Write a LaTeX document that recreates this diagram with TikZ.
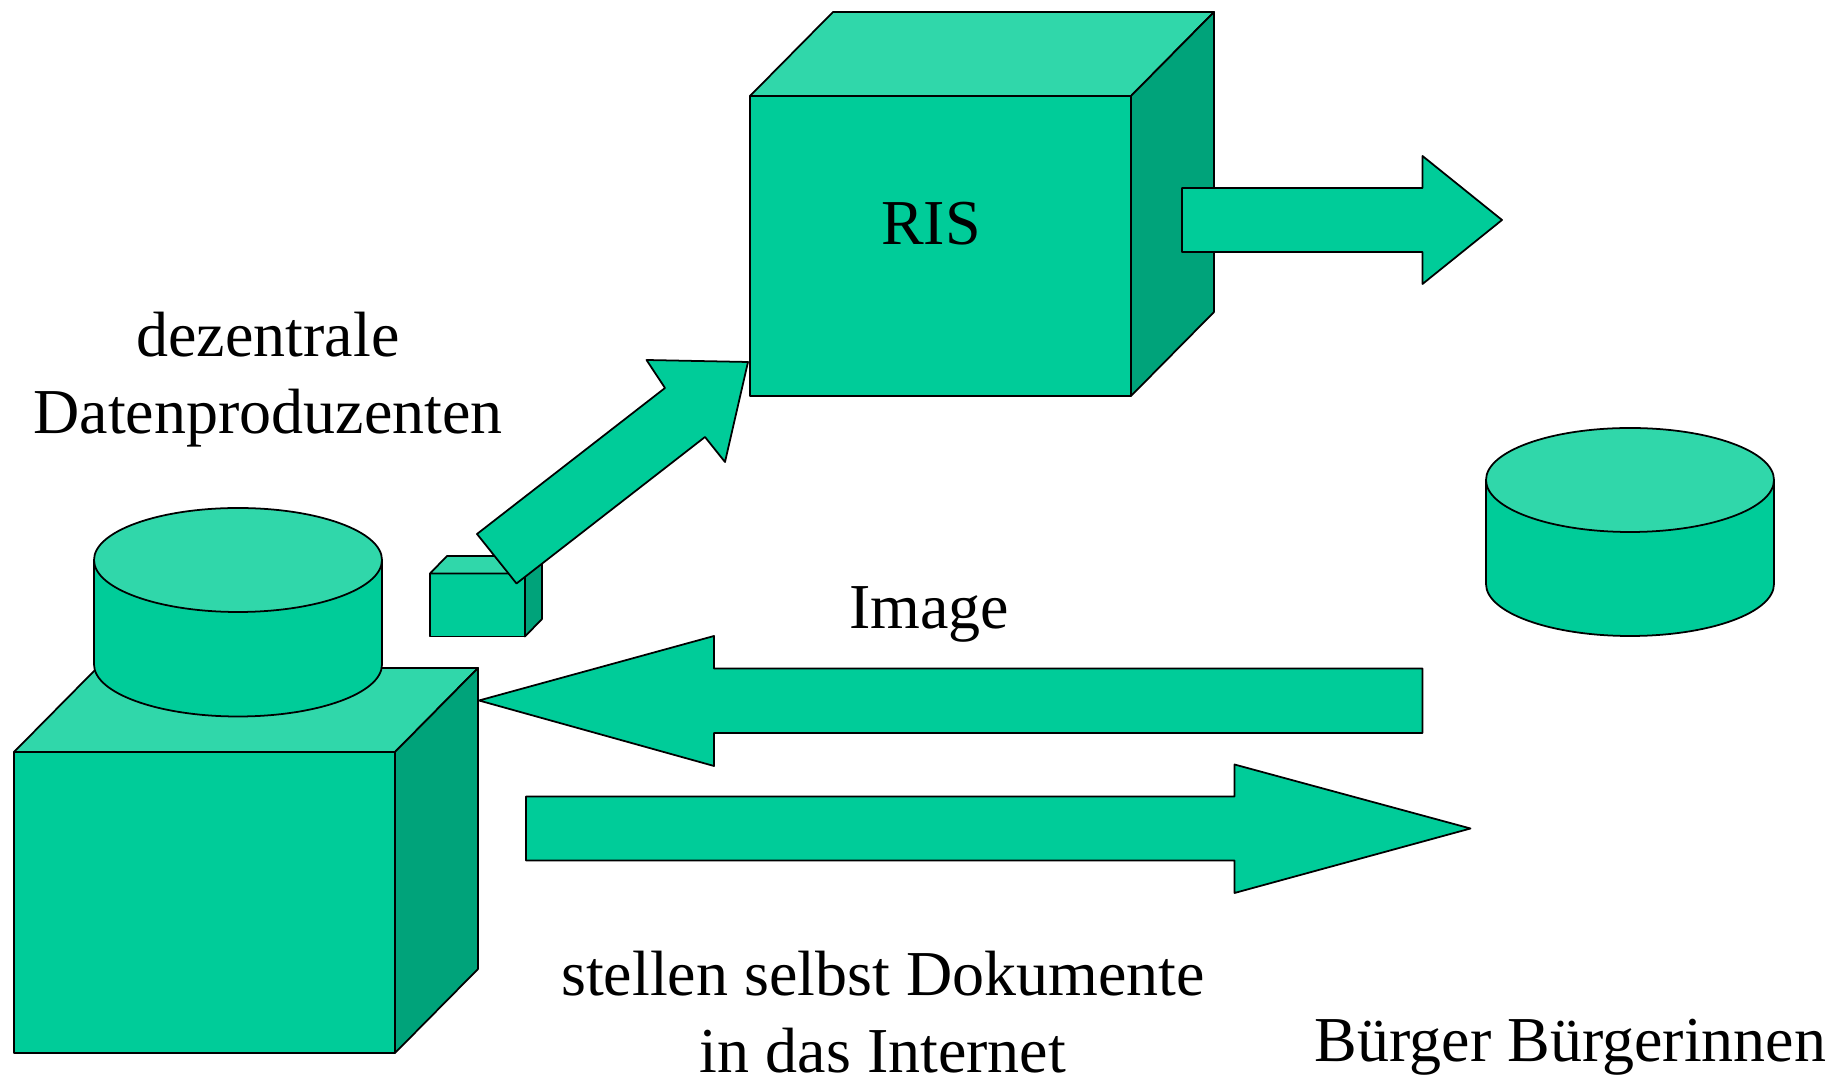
\documentclass[tikz,border=0pt]{standalone}
\usepackage{fontspec}
\setmainfont{Liberation Serif}
\usepackage{tikz}
\definecolor{frontgreen}{RGB}{0,204,153}
\definecolor{topgreen}{RGB}{48,215,170}
\definecolor{sidegreen}{RGB}{0,163,122}
\tikzset{
  outline/.style={draw=black,line width=0.5pt,line join=round},
  frontface/.style={outline,fill=frontgreen},
  topface/.style={outline,fill=topgreen},
  sideface/.style={outline,fill=sidegreen},
  label/.style={inner sep=0pt,anchor=base,align=center,font=\fontsize{18.2}{21.9}\selectfont}
}

\begin{document}
\begin{tikzpicture}[x=0.01cm,y=-0.01cm]
\useasboundingbox (0,0) rectangle (1833,1080);

% boxes: left/right/depth x, then front top/bottom y, then back y
\foreach \l/\r/\d/\t/\b/\k in {14/395/83/752/1053/84,430/525/17/573.5/636.5/17.5,750/1131/83/96/396/84}
         {
           \filldraw[frontface] (\l,\t) rectangle (\r,\b);
           \filldraw[topface] (\l,\t) -- (\l+\d,\t-\k) -- (\r+\d,\t-\k) -- (\r,\t) -- cycle;
           \filldraw[sideface] (\r,\t) -- (\r+\d,\t-\k) -- (\r+\d,\b-\k) -- (\r,\b) -- cycle;
         }

% cylinders
\foreach \cx/\ctop/\cbot in {238/560/664.5,1630/480/584}
         {
           \filldraw[frontface] (\cx-144,\ctop) -- (\cx-144,\cbot) arc[start angle=180,end angle=0,x radius=144,y radius=52] -- (\cx+144,\ctop) -- cycle;
           \filldraw[topface] (\cx,\ctop) ellipse [x radius=144,y radius=52];
         }

% block arrows
\filldraw[frontface] (477,534) -- (665,388) -- (646.5,360) -- (748,362) -- (725,462) -- (705,437) -- (516.5,583.5) -- cycle;
\filldraw[frontface] (1182,188) -- (1422.5,188) -- (1422.5,156) -- (1502,220) -- (1422.5,284) -- (1422.5,252) -- (1182,252) -- cycle;
\filldraw[frontface] (1422.5,668.5) -- (714,668.5) -- (714,636) -- (479,700.5) -- (714,766) -- (714,733) -- (1422.5,733) -- cycle;
\filldraw[frontface] (526,796.5) -- (1234.5,796.5) -- (1234.5,764.5) -- (1470.5,828.5) -- (1234.5,893) -- (1234.5,860.5) -- (526,860.5) -- cycle;

\node[label] (ris) at (931,245) {RIS};
\node[label] (produzenten) at (268,434) {dezentrale\\Datenproduzenten};
\node[label] (image) at (929,629) {Image};
\node[label] (dokumente) at (883,1073) {stellen selbst Dokumente\\in das Internet};
\node[label] (buerger) at (1570.5,1061) {Bürger Bürgerinnen};

\end{tikzpicture}
\end{document}
